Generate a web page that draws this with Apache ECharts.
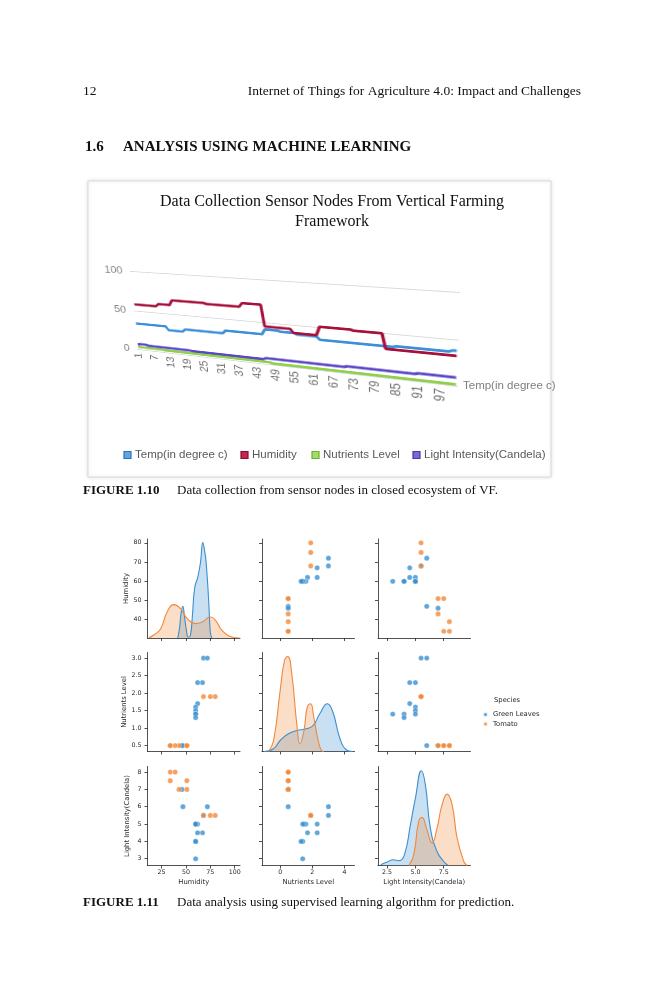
<!DOCTYPE html>
<html><head><meta charset="utf-8">
<script src="https://cdn.jsdelivr.net/npm/echarts@6/dist/echarts.min.js"></script>
<style>
html,body{margin:0;padding:0;background:#fff;}
#page{position:relative;width:663px;height:1000px;overflow:hidden;}
#main{position:absolute;left:0;top:0;width:663px;height:1000px;}
#plot1{position:absolute;left:0;top:0;width:420px;height:200px;transform-origin:0 0;}
</style></head>
<body><div id="page"><div id="main"></div><div id="plot1"></div></div>
<script>
// ---------------- Figure 1.10 data (sensor readings, 101 samples) ----------------
const sensorSeriesNames = ['Temp(in degree c)', 'Humidity', 'Nutrients Level', 'Light Intensity(Candela)'];
const sensorIndex = [];
for (let i = 1; i <= 101; i++) sensorIndex.push(String(i));

const tempValues = [
  33.5,33.5,33.5,33.5,33.5,33.5,33.5,33.5,33.5,33.5,33.5,33.5,
  29,29,29,29,29,29,
  32,32,32,32,32,32,32,32,32,32,32,32,32,32,
  35.5,35.5,35.5,35.5,35.5,35.5,35.5,35.5,35.5,35.5,35.5,35.5,35.5,
  41.5,41.5,41.5,41.5,41.5,
  40.5,40.5,40.5,40.5,40.5,
  39,39,39,39,39,39,39,
  35.5,35.5,35.5,35.5,35.5,35.5,35.5,35.5,35.5,35.5,35.5,35.5,35.5,35.5,35.5,35.5,35.5,35.5,35.5,35.5,35.5,35.5,
  36.5,36.5,36.5,36.5,36.5,36.5,36.5,36.5,36.5,36.5,36.5,36.5,36.5,36.5,36.5,
  38,38
];
const humidityValues = [
  58,58,58,58,58,58,58,58,58,
  61,61,61,61,61,
  67,67,67,67,67,67,67,67,67,67,67,67,
  66,66,66,66,66,66,66,66,66,66,66,66,
  70.5,70.5,70.5,70.5,70.5,70.5,70.5,
  45,45,45,45,45,45,45,45,45,
  40.5,40.5,40.5,40.5,40.5,40.5,40.5,40.5,
  50.5,50.5,50.5,50.5,50.5,50.5,50.5,50.5,50.5,50.5,
  49.5,49.5,49.5,49.5,49.5,49.5,49.5,49.5,49.5,
  32.5,32.5,32.5,32.5,32.5,32.5,32.5,32.5,32.5,32.5,32.5,32.5,32.5,32.5,32.5,32.5,32.5,32.5,32.5,32.5
];
const nutrientValues = [
  3,3,3,3,3,3,3,3,3,3,
  2.5,2.5,2.5,2.5,2.5,2.5,2.5,2.5,2.5,2.5,2.5,2.5,2.5,2.5,2.5,2.5,2.5,2.5,2.5,2.5,2.5,2.5,2.5,2.5,2.5,2.5,2.5,2.5,2.5,2.5,2.5,2.5,2.5,2.5,2.5,2.5,2.5,
  1.5,1.5,1.5,1.5,1.5,1.5,1.5,1.5,1.5,1.5,1.5,1.5,1.5,1.5,1.5,1.5,1.5,1.5,1.5,1.5,1.5,1.5,1.5,1.5,1.5,1.5,1.5,
  1.5,1.5,1.5,1.5,1.5,1.5,1.5,1.5,1.5,1.5,1.5,1.5,1.5,1.5,1.5,1.5,1.5,1.5,1.5,1.5,1.5,1.5,1.5,1.5,1.5,1.5,1.5
];
const lightValues = [
  6,
  7,7,7,
  6,6,6,6,6,6,6,6,6,6,6,6,6,6,6,6,
  5.5,5.5,5.5,5.5,5.5,5.5,5.5,5.5,5.5,5.5,5.5,5.5,5.5,5.5,5.5,5.5,5.5,5.5,5.5,5.5,5.5,5.5,5.5,5.5,5.5,
  7,7,7,7,7,7,7,7,7,7,7,7,7,7,7,7,7,7,7,7,7,7,7,7,7,
  8,8,8,8,8,8,8,8,8,8,8,8,8,8,8,8,8,8,8,8,
  9,9,9,9,9,9,9,9,9,9,9
];

// ---------------- Figure 1.11 data (pairplot) ----------------
const speciesNames = ['Green Leaves', 'Tomato'];
const pairVarNames = ['Humidity', 'Nutrients Level', 'Light Intensity(Candela)'];
const greenHumidity  = [68, 72, 67, 62, 62, 60, 60, 60, 60, 60, 60, 47, 46];
const greenNutrients = [3.0, 3.0, 2.3, 2.3, 1.7, 1.6, 1.5, 1.4, 1.4, 1.4, 1.3, 0.5, 0.5];
const greenLight     = [5.5, 6.0, 4.5, 5.0, 4.5, 5.0, 5.0, 5.0, 3.0, 4.0, 4.0, 6.0, 7.0];
const tomatoHumidity  = [80, 75, 68, 51, 51, 43, 39, 34, 34];
const tomatoNutrients = [1.9, 1.9, 1.9, 0.5, 0.5, 0.5, 0.5, 0.5, 0.5];
const tomatoLight     = [5.5, 5.5, 5.5, 7.0, 7.5, 7.0, 8.0, 7.5, 8.0];
// KDE curves: [value, density height]
const kdeHumGreen = [[41.7,0],[43.5,10],[45,24],[46.8,31.7],[48.5,22],[50.5,8],[52.5,1],[54.5,2],[56.5,20],[59,50],[62.2,61],[65,76],[67.3,95.4],[69,88],[70.7,76],[73.4,36],[75,6],[76.5,0]];
const kdeHumTomato = [[12,0],[17,3],[24,9],[30.8,26],[37.6,33.4],[44.5,29.4],[51.3,19.4],[59.8,14.4],[66.7,16],[75.2,21],[80.3,17.7],[87,7.7],[97,1],[105,0]];
const kdeNutGreen = [[-1.0,0],[-0.41,2.7],[0,11],[0.51,17.7],[1.03,21],[1.64,22.7],[2.05,26],[2.46,37.7],[2.93,47.7],[3.28,39.3],[3.69,14.3],[4.1,1.7],[4.5,0]];
const kdeNutTomato = [[-0.72,0],[-0.41,11],[0,61],[0.27,91],[0.47,95],[0.72,77.7],[1.03,27.7],[1.23,7.7],[1.48,21],[1.68,44],[1.89,47.7],[2.09,34],[2.36,11],[2.56,1],[2.7,0]];
const kdeLightGreen = [[1.94,0.7],[2.5,3.4],[3.03,5.7],[3.53,4.7],[4.03,10.7],[4.56,40.7],[5.0,67.4],[5.53,94.7],[5.88,80.7],[6.32,37.4],[6.91,14],[7.5,4],[7.9,0]];
const kdeLightTomato = [[4.42,0],[4.85,10.7],[5.29,44],[5.59,48],[5.97,37.4],[6.47,22.4],[6.91,37.4],[7.35,60.7],[7.8,71.4],[8.24,60.7],[8.68,27.4],[9.27,4],[9.56,0]];
const pairXTicks = [[25, 50, 75, 100], [0, 2, 4], [2.5, 5, 7.5]];
const pairYTicks = [[40, 50, 60, 70, 80], [0.5, 1, 1.5, 2, 2.5, 3], [3, 4, 5, 6, 7, 8]];

// ---------------- styles / layout ----------------
const SERIF = 'Liberation Serif';
const SANS = 'Liberation Sans';
const MPL = 'DejaVu Sans';
const lineColors = ['#3d8fdb', '#a8103c', '#8fd14a', '#5b47c9'];
const legendFill = ['#5fa6e6', '#c2284f', '#a6dc6a', '#7b6ad6'];
const legendBorder = ['#2e75b6', '#8c0a30', '#6fae35', '#4a38a8'];
const speciesColors = ['#3a8fd0', '#f0883a'];

// ---------- perspective (3-D) plot of Figure 1.10 ----------
function homography(src, dst) {
  const A = [], b = [];
  for (let i = 0; i < 4; i++) {
    const x = src[i][0], y = src[i][1], u = dst[i][0], v = dst[i][1];
    A.push([x, y, 1, 0, 0, 0, -x * u, -y * u]); b.push(u);
    A.push([0, 0, 0, x, y, 1, -x * v, -y * v]); b.push(v);
  }
  const n = 8;
  for (let c = 0; c < n; c++) {
    let p = c;
    for (let r = c + 1; r < n; r++) if (Math.abs(A[r][c]) > Math.abs(A[p][c])) p = r;
    let t = A[c]; A[c] = A[p]; A[p] = t;
    let tb = b[c]; b[c] = b[p]; b[p] = tb;
    for (let r = 0; r < n; r++) {
      if (r === c) continue;
      const f = A[r][c] / A[c][c];
      for (let k = c; k < n; k++) A[r][k] -= f * A[c][k];
      b[r] -= f * b[c];
    }
  }
  return b.map((v, i) => v / A[i][i]);
}
const FG = {left: 60, top: 40, width: 320, height: 100};
const hm = homography(
  [[FG.left, FG.top], [FG.left + FG.width, FG.top], [FG.left, FG.top + FG.height], [FG.left + FG.width, FG.top + FG.height]],
  [[130, 271], [460, 292], [137, 349], [458, 386]]
);
const plotDiv = document.getElementById('plot1');
plotDiv.style.transform = 'matrix3d(' + [hm[0], hm[3], 0, hm[6], hm[1], hm[4], 0, hm[7], 0, 0, 1, 0, hm[2], hm[5], 0, 1].join(',') + ')';

const plot1 = echarts.init(plotDiv);
const sensorData = [tempValues, humidityValues, nutrientValues, lightValues];
plot1.setOption({
  animation: false,
  grid: {left: FG.left, top: FG.top, width: FG.width, height: FG.height, containLabel: false, outerBoundsMode: 'none'},
  xAxis: {
    type: 'category', data: sensorIndex, boundaryGap: true,
    axisLine: {show: false}, axisTick: {show: false},
    axisLabel: {interval: 5, rotate: 90, color: '#6f6f6f', fontSize: 13, fontFamily: SANS, margin: 5}
  },
  yAxis: {
    type: 'value', min: 0, max: 100, interval: 50,
    axisLine: {show: false}, axisTick: {show: false},
    axisLabel: {color: '#7f7f7f', fontSize: 13, fontFamily: SANS, margin: 9},
    splitLine: {lineStyle: {color: '#d9d9d9', width: 1}}
  },
  series: sensorSeriesNames.map((name, k) => ({
    type: 'line', name: name, data: sensorData[k], symbol: 'none',
    lineStyle: {width: 3, color: lineColors[k]}, itemStyle: {color: lineColors[k]}
  }))
});

// ---------- main page ----------
const main = echarts.init(document.getElementById('main'));
const greenVals = [greenHumidity, greenNutrients, greenLight];
const tomatoVals = [tomatoHumidity, tomatoNutrients, tomatoLight];
const kdeGreen = [kdeHumGreen, kdeNutGreen, kdeLightGreen];
const kdeTomato = [kdeHumTomato, kdeNutTomato, kdeLightTomato];
const axisRange = [[10.7, 105.4], [-1.13, 4.62], [1.7, 9.86]];
const rowRange = [[30.5, 82], [0.33, 3.16], [2.61, 8.32]];
const xDec = [0, 0, 1], yDec = [0, 1, 0];
const colLeft = [147.5, 262, 378], rowTop = [539, 652.5, 766.5];
const PW = 92.5, PH = 99;
const axisCol = '#262626';

const grids = [], xAxes = [], yAxes = [];
for (let r = 0; r < 3; r++) {
  for (let c = 0; c < 3; c++) {
    const i = r * 3 + c;
    grids.push({left: colLeft[c], top: rowTop[r], width: PW, height: PH, containLabel: false, outerBoundsMode: 'none'});
    xAxes.push({
      gridIndex: i, type: 'value', min: axisRange[c][0], max: axisRange[c][1],
      axisLine: {onZero: false, lineStyle: {color: axisCol, width: 0.8}},
      axisTick: {show: true, length: 3, lineStyle: {color: axisCol, width: 0.8}, customValues: pairXTicks[c]},
      axisLabel: {show: r === 2, customValues: pairXTicks[c], formatter: v => Number(v).toFixed(xDec[c]), fontSize: 6.3, color: axisCol, fontFamily: MPL, margin: 4},
      splitLine: {show: false},
      name: r === 2 ? pairVarNames[c] : '', nameLocation: 'middle', nameGap: 13,
      nameTextStyle: {fontSize: 6.8, color: axisCol, fontFamily: MPL}
    });
    yAxes.push({
      gridIndex: i, type: 'value', min: rowRange[r][0], max: rowRange[r][1], position: 'left',
      axisLine: {onZero: false, lineStyle: {color: axisCol, width: 0.8}},
      axisTick: {show: true, length: 3, lineStyle: {color: axisCol, width: 0.8}, customValues: pairYTicks[r]},
      axisLabel: {show: c === 0, customValues: pairYTicks[r], formatter: v => Number(v).toFixed(yDec[r]), fontSize: 6.3, color: axisCol, fontFamily: MPL, margin: 6},
      splitLine: {show: false},
      name: c === 0 ? pairVarNames[r] : '', nameLocation: 'middle', nameGap: 17, nameRotate: 90,
      nameTextStyle: {fontSize: 6.8, color: axisCol, fontFamily: MPL}
    });
  }
}
for (let r = 0; r < 3; r++) {
  yAxes.push({gridIndex: r * 4, type: 'value', min: 0, max: 99, show: false, position: 'right'});
}
const scatterSeries = [], kdeSeries = [];
for (let r = 0; r < 3; r++) {
  for (let c = 0; c < 3; c++) {
    const i = r * 3 + c;
    if (r === c) {
      [kdeGreen, kdeTomato].forEach((kde, s) => {
        kdeSeries.push({
          type: 'line', name: speciesNames[s], xAxisIndex: i, yAxisIndex: 9 + r,
          data: kde[r], smooth: 0.5, symbol: 'none', clip: true,
          lineStyle: {width: 1.1, color: speciesColors[s]},
          itemStyle: {color: speciesColors[s]},
          areaStyle: {color: speciesColors[s], opacity: 0.28}
        });
      });
    } else {
      [greenVals, tomatoVals].forEach((vals, s) => {
        scatterSeries.push({
          type: 'scatter', name: speciesNames[s], xAxisIndex: i, yAxisIndex: i,
          data: vals[c].map((x, k) => [x, vals[r][k]]),
          symbolSize: 5.2,
          itemStyle: {color: speciesColors[s], borderColor: '#ffffff', borderWidth: 0.4}
        });
      });
    }
  }
}
const allSeries = scatterSeries.concat(kdeSeries);

function txt(text, x, y, size, opts) {
  opts = opts || {};
  return {
    type: 'text', silent: true, z: 10,
    style: {
      text: text, x: x, y: y, fill: opts.fill || '#111',
      fontSize: size, fontFamily: opts.family || SERIF, fontWeight: opts.weight || 'normal',
      align: opts.align || 'left', verticalAlign: 'middle',
      textAlign: opts.align || 'left', textVerticalAlign: 'middle'
    }
  };
}
const legend1X = [124, 241, 312, 413];
const graphics = [
  {type: 'rect', z: 1, silent: true, shape: {x: 88, y: 181, width: 463, height: 296},
   style: {fill: '#ffffff', stroke: '#d9d9d9', lineWidth: 1, shadowBlur: 4, shadowColor: 'rgba(0,0,0,0.12)'}},
  txt('12', 83, 91, 13.5),
  txt('Internet of Things for Agriculture 4.0: Impact and Challenges', 581, 91, 13.5, {align: 'right'}),
  txt('1.6', 85, 147, 15, {weight: 'bold'}),
  txt('ANALYSIS USING MACHINE LEARNING', 123, 147, 15, {weight: 'bold'}),
  txt('Data Collection Sensor Nodes From Vertical Farming', 332, 202, 16, {align: 'center', fill: '#111'}),
  txt('Framework', 332, 222, 16, {align: 'center', fill: '#111'}),
  txt('Temp(in degree c)', 463, 386, 11.5, {family: SANS, fill: '#7f7f7f'}),
  txt('FIGURE 1.10', 83, 491, 13, {weight: 'bold'}),
  txt('Data collection from sensor nodes in closed ecosystem of VF.', 177, 491, 13),
  txt('FIGURE 1.11', 83, 903, 13, {weight: 'bold'}),
  txt('Data analysis using supervised learning algorithm for prediction.', 177, 903, 13),
  txt('Species', 494, 700, 6.8, {family: MPL, fill: axisCol})
];
sensorSeriesNames.forEach((name, k) => {
  graphics.push({type: 'rect', z: 10, silent: true, shape: {x: legend1X[k], y: 451.5, width: 7, height: 7},
    style: {fill: legendFill[k], stroke: legendBorder[k], lineWidth: 1.2}});
  graphics.push(txt(name, legend1X[k] + 11, 455, 11.5, {family: SANS, fill: '#595959'}));
});

main.setOption({
  animation: false,
  backgroundColor: '#ffffff',
  graphic: {elements: graphics},
  legend: {
    data: [{name: 'Green Leaves', icon: 'circle'}, {name: 'Tomato', icon: 'circle'}],
    orient: 'vertical', left: 477, top: 706, itemWidth: 5, itemHeight: 5, itemGap: 2.5,
    selectedMode: false,
    textStyle: {fontSize: 6.8, fontFamily: MPL, color: axisCol}
  },
  grid: grids, xAxis: xAxes, yAxis: yAxes, series: allSeries
});
</script></body></html>
